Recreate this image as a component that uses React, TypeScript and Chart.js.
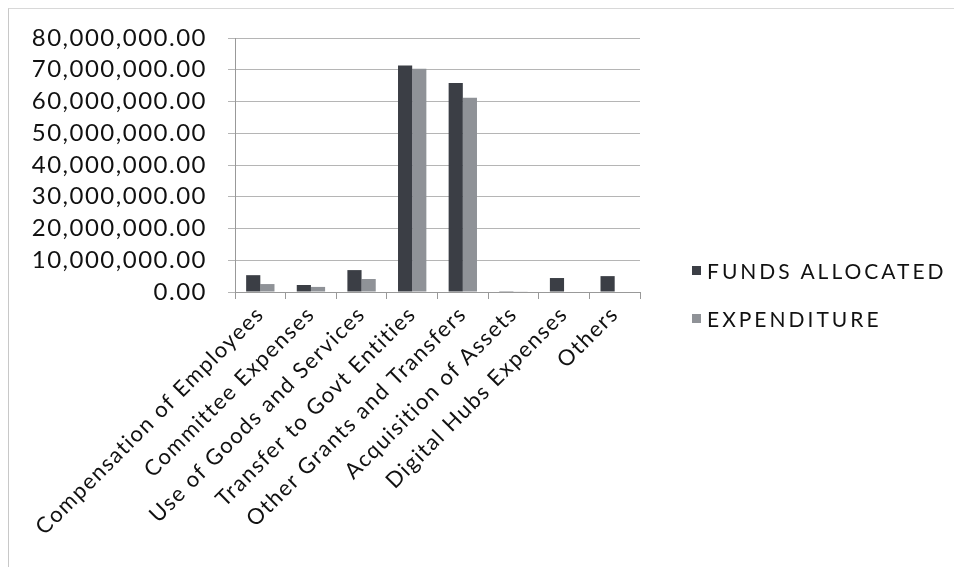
import React, { useEffect, useRef } from "react";
import { Chart, registerables } from "chart.js";

Chart.register(...registerables);

const categories = [
  "Compensation of Employees",
  "Committee Expenses",
  "Use of Goods and Services",
  "Transfer to Govt Entities",
  "Other Grants and Transfers",
  "Acquisition of Assets",
  "Digital Hubs Expenses",
  "Others",
];
const fundsAllocated = [5300000, 2200000, 6900000, 71300000, 65800000, 250000, 4400000, 5000000];
const expenditure = [2500000, 1600000, 4100000, 70300000, 61200000, 200000, 0, 0];
const seriesNames = ["FUNDS ALLOCATED", "EXPENDITURE"];
const seriesColors = ["#3b3e45", "#8f9297"];
const FONT = "Lato, 'Open Sans', sans-serif";

const spacingPlugin = {
  id: "spacing",
  beforeUpdate: (chart: any) => { (chart.ctx as any).letterSpacing = "1.5px"; },
  beforeDraw: (chart: any) => { (chart.ctx as any).letterSpacing = "1.5px"; },
};

export default function App() {
  const ref = useRef<HTMLCanvasElement | null>(null);
  useEffect(() => {
    if (!ref.current) return;
    const chart = new Chart(ref.current, {
      type: "bar",
      plugins: [spacingPlugin],
      data: {
        labels: categories,
        datasets: [
          { label: seriesNames[0], data: fundsAllocated, backgroundColor: seriesColors[0] },
          { label: seriesNames[1], data: expenditure, backgroundColor: seriesColors[1] },
        ],
      },
      options: {
        animation: false,
        responsive: true,
        maintainAspectRatio: false,
        layout: { padding: { top: 29, right: 314, left: 0, bottom: 0 } },
        datasets: { bar: { categoryPercentage: 0.56, barPercentage: 1 } },
        plugins: { legend: { display: false }, tooltip: { enabled: false } },
        scales: {
          x: {
            afterFit: (s: any) => { s.height = 275; },
            grid: { display: true, drawOnChartArea: false, offset: true, tickLength: 7, color: "#999" },
            border: { color: "#999" },
            ticks: {
              color: "#111",
              font: { family: FONT, size: 22 },
              maxRotation: 45,
              minRotation: 45,
              autoSkip: false,
              padding: 2,
            },
          },
          y: {
            min: 0,
            max: 80000000,
            afterFit: (s: any) => { s.width = 226; s.paddingTop = 0; s.paddingBottom = 0; },
            grid: { color: "#b5b5b5", tickLength: 7 },
            border: { color: "#999" },
            ticks: {
              stepSize: 10000000,
              autoSkip: false,
              color: "#111",
              font: { family: FONT, size: 24 },
              padding: 21,
              callback: (v: any) =>
                Number(v).toLocaleString("en-US", { minimumFractionDigits: 2, maximumFractionDigits: 2 }),
            },
          },
        },
      },
    });
    return () => chart.destroy();
  }, []);

  return (
    <div
      style={{
        position: "relative",
        width: 946,
        height: 559,
        borderLeft: "1px solid #c8c8c8",
        borderTop: "1px solid #d8d8d8",
        boxSizing: "border-box",
        fontFamily: FONT,
      }}
    >
      <canvas ref={ref} />
      <div style={{ position: "absolute", left: 683, top: 249, color: "#111", fontSize: 21, letterSpacing: 3 }}>
        {seriesNames.map((n, i) => (
          <div key={n} style={{ display: "flex", alignItems: "center", height: 24, marginBottom: 24 }}>
            <span
              style={{ display: "inline-block", width: 9, height: 9, background: seriesColors[i], marginRight: 6 }}
            />
            <span>{n}</span>
          </div>
        ))}
      </div>
    </div>
  );
}
